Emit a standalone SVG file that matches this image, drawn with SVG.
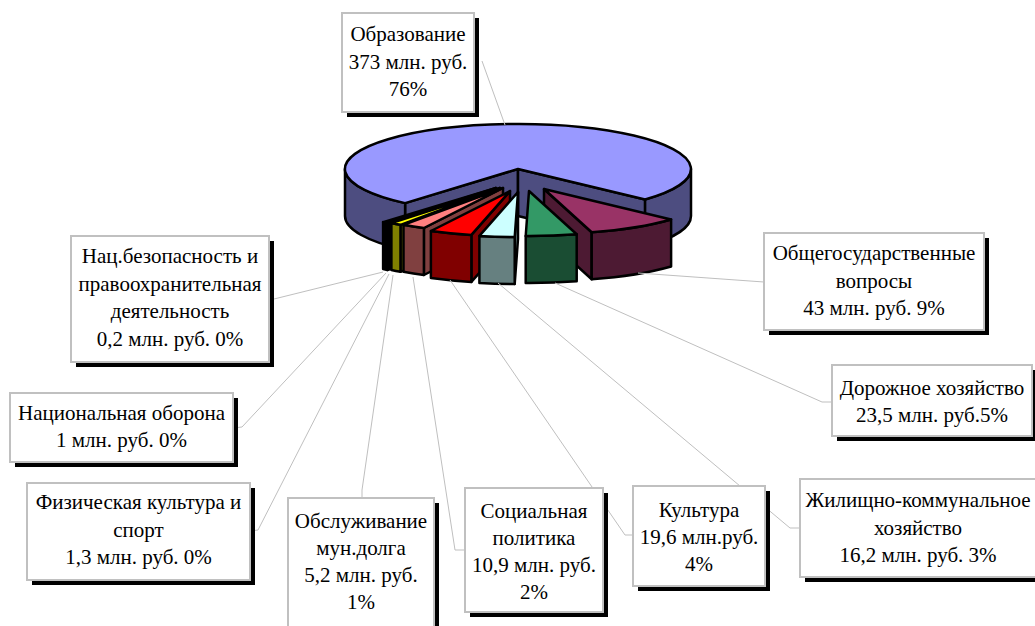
<svg xmlns="http://www.w3.org/2000/svg" width="1035" height="626" viewBox="0 0 1035 626">
<style>
.e{stroke:#000;stroke-width:2.5;stroke-linejoin:round}
.lead{fill:none;stroke:#BFBFBF;stroke-width:1}
.sh{fill:#000}
.bx{fill:#fff;stroke:#C0C0C0;stroke-width:2}
text{font-family:"Liberation Serif","Times New Roman",serif;font-size:21px;fill:#000;text-anchor:middle}
</style>
<rect width="1035" height="626" fill="#fff"/>
<g id="pie">
  <g id="slice-obrazovanie">
    <path class="e" fill="#4D4D80" d="M518,169 L405.1,203.1 L405.1,250.1 L518,216 Z"/>
    <path class="e" fill="#4D4D80" d="M518,169 L645.1,199.5 L645.1,246.5 L518,216 Z"/>
    <path class="e" fill="#4D4D80" d="M645.1,199.5 A173 45 0 0 0 691,169 L691,216 A173 45 0 0 1 645.1,246.5 Z"/>
    <path class="e" fill="#4D4D80" d="M405.1,203.1 A173 45 0 0 1 345,169 L345,216 A173 45 0 0 0 405.1,250.1 Z"/>
    <path class="e" fill="#9999FF" d="M518,169 L645.1,199.5 A173 45 0 1 0 405.1,203.1 Z"/>
  </g>
  <g id="slice-tiny">
    <path class="e" fill="#000" d="M496,188 L387.4,223 L387.4,270 L496,235 Z"/>
    <path class="e" fill="#000" d="M387.4,223 A173 45 0 0 1 383.1,222.1 L383.1,269.1 A173 45 0 0 0 387.4,270 Z"/>
    <path class="e" fill="#000" d="M496,188 L387.4,223 A173 45 0 0 1 383.1,222.1 Z"/>
  </g>
  <g id="slice-obsluzhivanie">
    <path class="e" fill="#808000" d="M500,188 L400.5,224.8 L400.5,271.8 L500,235 Z"/>
    <path class="e" fill="#808000" d="M400.5,224.8 A173 45 0 0 1 391.4,223 L391.4,270 A173 45 0 0 0 400.5,271.8 Z"/>
    <path class="e" fill="#FFFF00" d="M500,188 L400.5,224.8 A173 45 0 0 1 391.4,223 Z"/>
  </g>
  <g id="slice-socialnaya">
    <path class="e" fill="#804040" d="M503,188 L423.9,228 L423.9,275 L503,235 Z"/>
    <path class="e" fill="#804040" d="M423.9,228 A173 45 0 0 1 403.5,224.8 L403.5,271.8 A173 45 0 0 0 423.9,275 Z"/>
    <path class="e" fill="#FF8080" d="M503,188 L423.9,228 A173 45 0 0 1 403.5,224.8 Z"/>
  </g>
  <g id="slice-kultura">
    <path class="e" fill="#800000" d="M510,191 L471.4,234.9 L471.4,281.9 L510,238 Z"/>
    <path class="e" fill="#800000" d="M471.4,234.9 A173 45 0 0 1 430.9,231 L430.9,278 A173 45 0 0 0 471.4,281.9 Z"/>
    <path class="e" fill="#FF0000" d="M510,191 L471.4,234.9 A173 45 0 0 1 430.9,231 Z"/>
  </g>
  <g id="slice-zhkh">
    <path class="e" fill="#668080" d="M518,192 L514.7,237 L514.7,284 L518,239 Z"/>
    <path class="e" fill="#668080" d="M514.7,237 A173 45 0 0 1 479.4,235.9 L479.4,282.9 A173 45 0 0 0 514.7,284 Z"/>
    <path class="e" fill="#CCFFFF" d="M518,192 L514.7,237 A173 45 0 0 1 479.4,235.9 Z"/>
  </g>
  <g id="slice-obshchegos">
    <path class="e" fill="#4D1A33" d="M544,189 L591.7,232.3 L591.7,279.3 L544,236 Z"/>
    <path class="e" fill="#4D1A33" d="M671.1,219.5 A173 45 0 0 1 591.7,232.3 L591.7,279.3 A173 45 0 0 0 671.1,266.5 Z"/>
    <path class="e" fill="#993366" d="M544,189 L671.1,219.5 A173 45 0 0 1 591.7,232.3 Z"/>
  </g>
  <g id="slice-dorozhnoe">
    <path class="e" fill="#1A4D33" d="M576.7,234.3 A173 45 0 0 1 525.7,236 L525.7,283 A173 45 0 0 0 576.7,281.3 Z"/>
    <path class="e" fill="#339966" d="M529,191 L576.7,234.3 A173 45 0 0 1 525.7,236 Z"/>
  </g>
</g>
<g id="connectors">
  <path class="lead" d="M482,61 L505,125"/>
  <path class="lead" d="M638,273 L764,282"/>
  <path class="lead" d="M555,283 L822,402 L832,402"/>
  <path class="lead" d="M498,283 L790,528 L800,528"/>
  <path class="lead" d="M450,280 L625,535 L633,535"/>
  <path class="lead" d="M413,277 L455,550 L465,550"/>
  <path class="lead" d="M393,275 L362,490 L362,498"/>
  <path class="lead" d="M389,274 L258,530 L250,531"/>
  <path class="lead" d="M386,273 L242,427 L233,428"/>
  <path class="lead" d="M383,272 L274,299"/>
</g>
<g id="label-obrazovanie">
  <rect class="sh" x="347" y="18" width="132" height="99"/>
  <rect class="bx" x="342" y="13" width="132" height="99"/>
  <text x="408" y="41">Образование</text>
  <text x="408" y="68.5">373 млн. руб.</text>
  <text x="408" y="96">76%</text>
</g>
<g id="label-obshchegos">
  <rect class="sh" x="769" y="238" width="220" height="97"/>
  <rect class="bx" x="764" y="233" width="220" height="97"/>
  <text x="874" y="260">Общегосударственные</text>
  <text x="874" y="287.5">вопросы</text>
  <text x="874" y="315">43 млн. руб. 9%</text>
</g>
<g id="label-dorozhnoe">
  <rect class="sh" x="837" y="370" width="200" height="71"/>
  <rect class="bx" x="832" y="365" width="200" height="71"/>
  <text x="932" y="395">Дорожное хозяйство</text>
  <text x="932" y="422">23,5 млн. руб.5%</text>
</g>
<g id="label-zhkh">
  <rect class="sh" x="805" y="484" width="237" height="98"/>
  <rect class="bx" x="800" y="479" width="237" height="98"/>
  <text x="918" y="507">Жилищно-коммунальное</text>
  <text x="918" y="535">хозяйство</text>
  <text x="918" y="562">16,2 млн. руб. 3%</text>
</g>
<g id="label-kultura">
  <rect class="sh" x="638" y="491" width="132" height="100"/>
  <rect class="bx" x="633" y="486" width="132" height="100"/>
  <text x="699" y="517">Культура</text>
  <text x="699" y="544">19,6 млн.руб.</text>
  <text x="699" y="571">4%</text>
</g>
<g id="label-socialnaya">
  <rect class="sh" x="470" y="493" width="138" height="124"/>
  <rect class="bx" x="465" y="488" width="138" height="124"/>
  <text x="534" y="518">Социальная</text>
  <text x="534" y="545">политика</text>
  <text x="534" y="572">10,9 млн. руб.</text>
  <text x="534" y="599">2%</text>
</g>
<g id="label-obsluzhivanie">
  <rect class="sh" x="293" y="503" width="146" height="130"/>
  <rect class="bx" x="288" y="498" width="146" height="130"/>
  <text x="361" y="528">Обслуживание</text>
  <text x="361" y="555">мун.долга</text>
  <text x="361" y="582">5,2 млн. руб.</text>
  <text x="361" y="609">1%</text>
</g>
<g id="label-fizkultura">
  <rect class="sh" x="32" y="488" width="223" height="97"/>
  <rect class="bx" x="27" y="483" width="223" height="97"/>
  <text x="138.5" y="509">Физическая культура и</text>
  <text x="138.5" y="537">спорт</text>
  <text x="138.5" y="564">1,3 млн. руб. 0%</text>
</g>
<g id="label-oborona">
  <rect class="sh" x="15" y="398" width="223" height="69"/>
  <rect class="bx" x="10" y="393" width="223" height="69"/>
  <text x="121.5" y="420">Национальная оборона</text>
  <text x="121.5" y="447">1 млн. руб. 0%</text>
</g>
<g id="label-natsbez">
  <rect class="sh" x="76" y="241" width="198" height="126"/>
  <rect class="bx" x="71" y="236" width="198" height="126"/>
  <text x="170" y="263">Нац.безопасность и</text>
  <text x="170" y="291">правоохранительная</text>
  <text x="170" y="318">деятельность</text>
  <text x="170" y="346">0,2 млн. руб. 0%</text>
</g>
</svg>
